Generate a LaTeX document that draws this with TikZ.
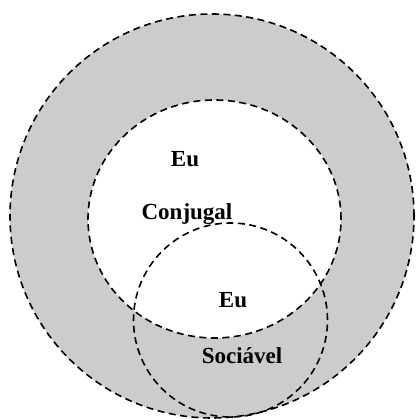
\documentclass[tikz,border=0pt]{standalone}
\usepackage{fontspec}
\setmainfont{Liberation Serif}
\usepackage{xcolor}
\usetikzlibrary{positioning}
\definecolor{ringgrey}{HTML}{CCCCCC}

\begin{document}
\begin{tikzpicture}[
  x=1pt, y=1pt,
  ring/.style={draw=black,line width=1.6pt,dash pattern=on 7pt off 4.5pt},
  lbl/.style={font=\fontsize{23}{27}\selectfont\bfseries,anchor=base,inner sep=0pt}]

  \useasboundingbox (0,0) rectangle (416,420);

  \coordinate (outer) at (212,204);
  \coordinate (conj) at (214.5,201);
  \coordinate (soc) at (230.5,100);

  % grey ring and white core
  \fill[ringgrey] (outer) circle[radius=202];
  \fill[white] (conj) ellipse[x radius=126.5,y radius=119];

  % dashed outlines
  \draw[ring] (outer) circle[radius=202];
  \draw[ring] (conj) ellipse[x radius=126.5,y radius=119];
  \draw[ring] (soc) circle[radius=97];

  \node[lbl] (eua) at (185,253) {Eu};
  \node[lbl] (conjugal) at (187,200) {Conjugal};
  \node[lbl] (eub) at (233,112) {Eu};
  \node[lbl] (sociavel) at (242,56) {Sociável};
\end{tikzpicture}
\end{document}
